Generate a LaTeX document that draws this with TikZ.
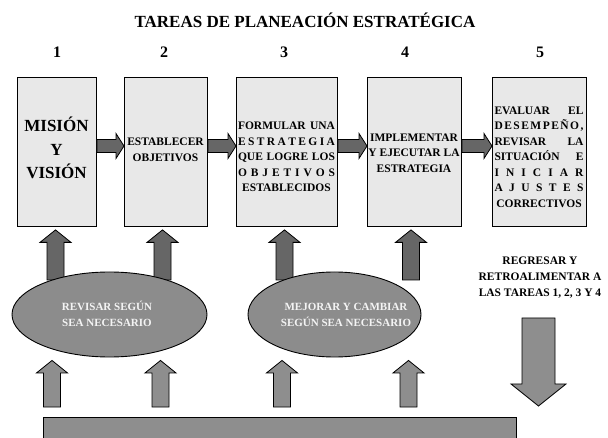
\documentclass[tikz,border=0pt]{standalone}
\usepackage{fontspec}
\setmainfont{Liberation Serif}
\usetikzlibrary{calc,shapes.geometric}
\definecolor{boxg}{HTML}{E8E8E8}
\definecolor{darkg}{HTML}{666666}
\definecolor{midg}{HTML}{8E8E8E}
\definecolor{ellg}{HTML}{8C8C8C}
\definecolor{lightt}{HTML}{F4F4F4}
\tikzset{
  taskbox/.style={draw=black, line width=0.9pt, fill=boxg, minimum width=#1,
    minimum height=149pt, inner sep=0pt, anchor=north west},
  boxtext/.style={font=\bfseries\fontsize{11.5}{15.5}\selectfont, align=center, inner sep=0pt},
  elltext/.style={font=\bfseries\fontsize{11}{16}\selectfont, align=center, inner sep=0pt, text=lightt},
  numtext/.style={font=\bfseries\fontsize{16}{18}\selectfont, inner sep=0pt},
  ovalnode/.style={ellipse, draw=black, line width=0.9pt, fill=ellg, inner sep=0pt},
  blockarrow/.style={draw=black, line width=0.8pt, fill=#1},
}
% horizontal block arrow between two boxes at image height #3
\newcommand\rarrow[3]{%
  \path let \p1=(#1.east), \p2=(#2.west), \p3=(0,#3) in
    [blockarrow=darkg]
    (\x1,\y3+6.5pt) -- (\x2-8pt,\y3+6.5pt) -- (\x2-8pt,\y3+12.5pt) -- (\x2,\y3)
    -- (\x2-8pt,\y3-12.5pt) -- (\x2-8pt,\y3-6.5pt) -- (\x1,\y3-6.5pt) -- cycle;}
% vertical up block arrow: #1 fill, #2 x, #3 from anchor, #4 to anchor, #5 shift of foot
\newcommand\uarrow[5]{%
  \path let \p1=(#3), \p2=(#4) in
    [blockarrow=#1]
    ({#2pt-8.5pt},{\y1+#5}) -- ({#2pt-8.5pt},{\y2-15.5pt}) -- ({#2pt-15.5pt},{\y2-15.5pt})
    -- ({#2pt},{\y2-3pt}) -- ({#2pt+15.5pt},{\y2-15.5pt}) -- ({#2pt+8.5pt},{\y2-15.5pt})
    -- ({#2pt+8.5pt},{\y1+#5}) -- cycle;}
\begin{document}
\begin{tikzpicture}[x=1pt,y=-1pt]
\path[use as bounding box, clip] (0,0) rectangle (608,438);

% title and numbers
\node[font=\bfseries\fontsize{17}{20}\selectfont, inner sep=0pt] (title) at (305,20) {TAREAS DE PLANEACIÓN ESTRATÉGICA};
\node[numtext] (n1) at (57,52) {1};
\node[numtext] (n2) at (164,52) {2};
\node[numtext] (n3) at (284,52) {3};
\node[numtext] (n4) at (405,52) {4};
\node[numtext] (n5) at (540,52) {5};

% task boxes
\node[taskbox=79pt] (b1) at (17,77) {};
\node[taskbox=83pt] (b2) at (124,77) {};
\node[taskbox=101pt] (b3) at (236,77) {};
\node[taskbox=94pt] (b4) at (367,77) {};
\node[taskbox=94pt] (b5) at (492,77) {};

\node[font=\bfseries\fontsize{17}{23.5}\selectfont, align=center, inner sep=0pt] (t1) at (56.5,148) {MISIÓN\\Y\\VISIÓN};
\node[boxtext] (t2) at (165.5,150) {ESTABLECER\\OBJETIVOS};
\node[boxtext] (t3) at (286.5,157) {%
  \makebox[97pt]{FORMULAR\hfill UNA}\\
  \makebox[97pt]{E\hfill S\hfill T\hfill R\hfill A\hfill T\hfill E\hfill G\hfill I\hfill A}\\
  \makebox[97pt]{QUE\hfill LOGRE\hfill LOS}\\
  \makebox[97pt]{O\hfill B\hfill J\hfill E\hfill T\hfill I\hfill V\hfill O\hfill S}\\
  ESTABLECIDOS};
\node[boxtext] (t4) at (414,153) {IMPLEMENTAR\\Y EJECUTAR LA\\ESTRATEGIA};
\node[boxtext] (t5) at (539,157) {%
  \makebox[89pt]{EVALUAR\hfill EL}\\
  \makebox[89pt]{D\hfill E\hfill S\hfill E\hfill M\hfill P\hfill E\hfill Ñ\hfill O\hfill ,}\\
  \makebox[89pt]{REVISAR\hfill LA}\\
  \makebox[89pt]{SITUACIÓN\hfill E}\\
  \makebox[89pt]{I\hfill N\hfill I\hfill C\hfill I\hfill A\hfill R}\\
  \makebox[89pt]{A\hfill J\hfill U\hfill S\hfill T\hfill E\hfill S}\\
  CORRECTIVOS};

% arrows between boxes
\rarrow{b1}{b2}{146}
\rarrow{b2}{b3}{146}
\rarrow{b3}{b4}{146}
\rarrow{b4}{b5}{146}

% bottom bar
\node[draw=black, line width=0.9pt, fill=midg, minimum width=473pt, minimum height=40pt,
      inner sep=0pt, anchor=north west] (bar) at (43,417) {};

% ellipse top/bottom points
\coordinate (e1top) at (109.5,272);
\coordinate (e2top) at (334.5,272);

% upper arrows (ellipses to boxes)
\uarrow{darkg}{55.5}{e1top}{b1.south}{-8pt}
\uarrow{darkg}{162.5}{e1top}{b2.south}{-8pt}
\uarrow{darkg}{284.5}{e2top}{b3.south}{-8pt}
\uarrow{darkg}{411}{e2top}{b4.south}{-8pt}

% ellipses
\node[ovalnode, minimum width=195pt, minimum height=85pt] (e1) at (109.5,314.5) {};
\node[ovalnode, minimum width=173pt, minimum height=85pt] (e2) at (334.5,314.5) {};
\node[elltext] (et1) at (107,314) {REVISAR SEGÚN\\SEA NECESARIO};
\node[elltext] (et2) at (346,315) {MEJORAR Y CAMBIAR\\SEGÚN SEA NECESARIO};

% lower arrows (bar to ellipses)
\uarrow{midg}{52}{bar.north}{e1.south}{10pt}
\uarrow{midg}{160.5}{bar.north}{e1.south}{10pt}
\uarrow{midg}{282}{bar.north}{e2.south}{10pt}
\uarrow{midg}{408.5}{bar.north}{e2.south}{10pt}

% feedback text and down arrow
\node[boxtext, align=center, font=\bfseries\fontsize{11.5}{16}\selectfont] (fb) at (540,278)
  {REGRESAR Y\\RETROALIMENTAR A\\LAS TAREAS 1, 2, 3 Y 4};
\coordinate (dtop) at (538.5,318);
\coordinate (dtip) at (538.5,406);
\path let \p1=(dtop), \p2=(dtip) in [blockarrow=midg]
  (\x1-16.5pt,\y1) -- (\x1+16.5pt,\y1) -- (\x1+16.5pt,\y2+22pt) -- (\x1+27.5pt,\y2+22pt)
  -- (\x2,\y2) -- (\x1-27.5pt,\y2+22pt) -- (\x1-16.5pt,\y2+22pt) -- cycle;
\end{tikzpicture}
\end{document}
